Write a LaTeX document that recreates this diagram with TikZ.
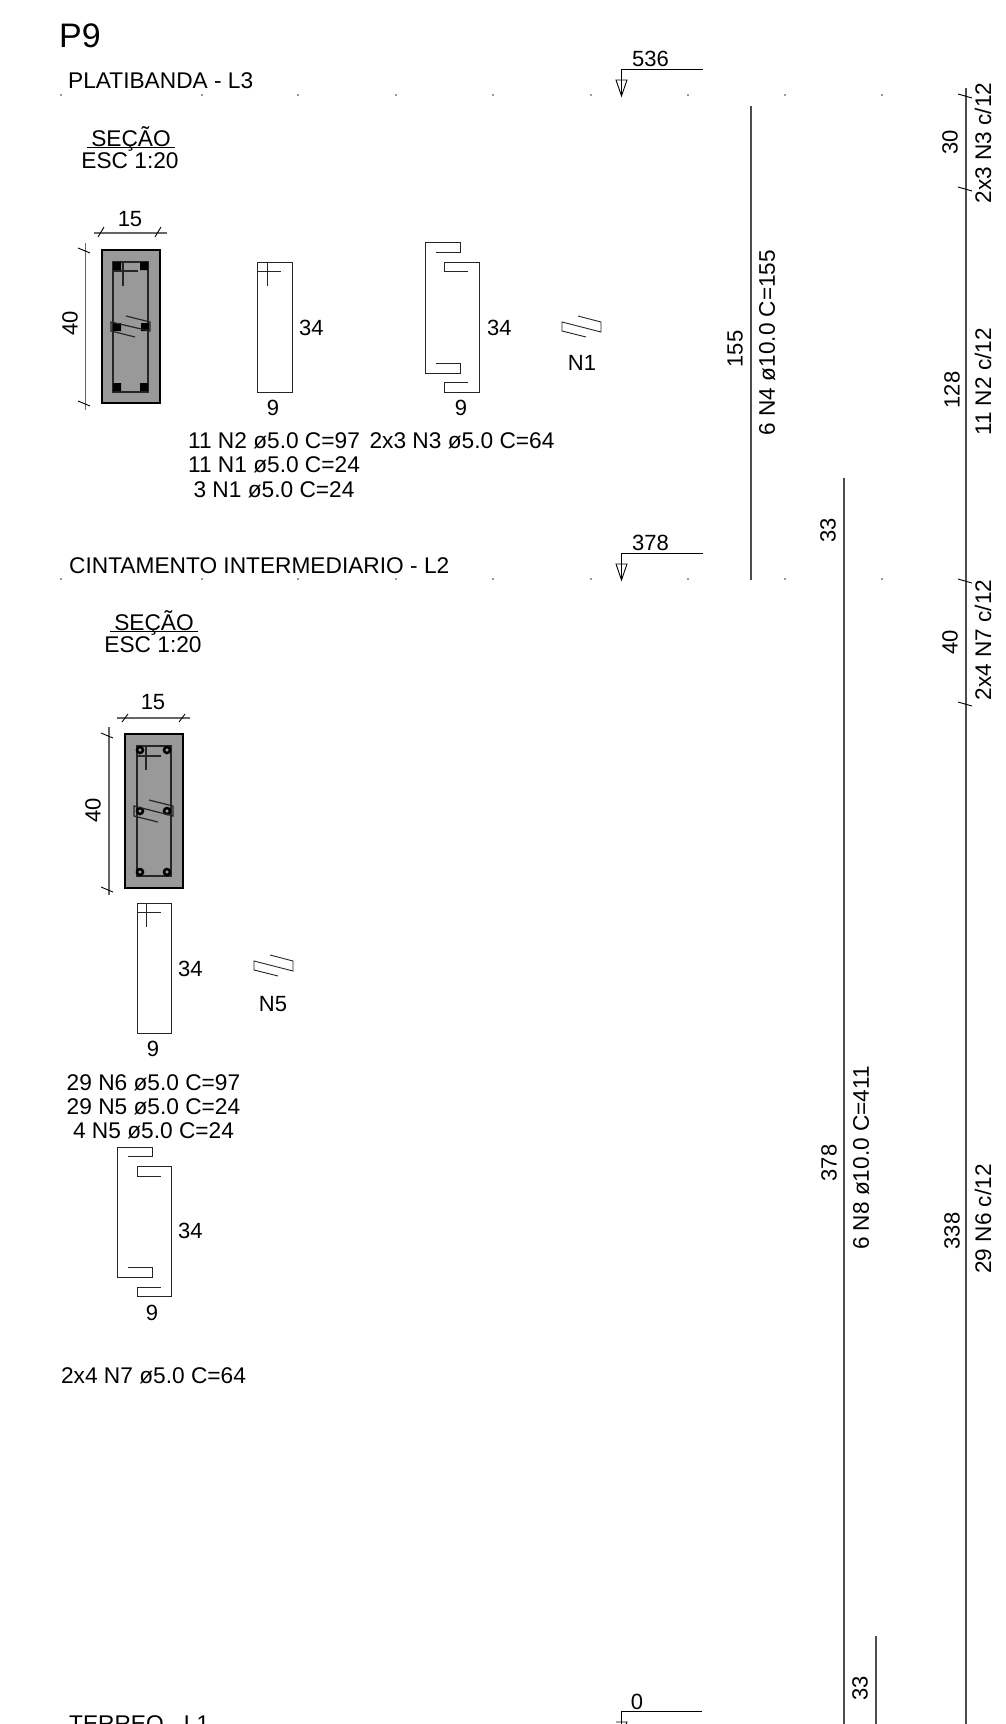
\documentclass[tikz,border=0pt]{standalone}
\usepackage{fontspec}
\setmainfont{Liberation Sans}

\tikzset{
	label_text/.style={anchor=base west, inner sep=0pt, font=\fontsize{22.7}{24}\selectfont},
	name_text/.style={anchor=base, inner sep=0pt, font=\fontsize{22.7}{24}\selectfont},
	mid_text/.style={anchor=base, inner sep=0pt, font=\fontsize{22}{24}\selectfont},
	num_text/.style={anchor=base west, inner sep=0pt, font=\fontsize{22}{24}\selectfont},
	side_text/.style={rotate=90, inner sep=0pt, text depth=0pt, font=\fontsize{22}{24}\selectfont},
	side_name/.style={rotate=90, inner sep=0pt, text depth=0pt, font=\fontsize{22.6}{24}\selectfont},
	bar_line/.style={draw=black!70, line width=1.6pt},
	dim_line/.style={draw=black!60, line width=1.2pt},
	shape_line/.style={draw=black!85, line width=0.9pt},
	inner_line/.style={draw=black!85, line width=1.2pt},
	concrete/.style={draw=black, fill=black!40, line width=2.5pt},
	tick_line/.style={draw=black, line width=0.9pt},
}

\begin{document}
\begin{tikzpicture}[x=1pt, y=-1pt]

\clip (0, 0) rectangle (1006, 1724);

% Title and floors
\node [anchor=base west, inner sep=0pt, font=\fontsize{34}{36}\selectfont] (title) at (59, 47) {P9};
\node [label_text] (floor_l3) at (68, 88) {PLATIBANDA - L3};
\node [label_text] (floor_l2) at (69, 573) {CINTAMENTO INTERMEDIARIO - L2};
\node [label_text] (floor_l1) at (69, 1731) {TERREO - L1};

% Grid dots
\fill [black!80] (61, 95) circle (0.9) (202, 95) circle (0.9) (298, 95) circle (0.9)
	(396, 95) circle (0.9) (493, 95) circle (0.9) (591, 95) circle (0.9)
	(688, 95) circle (0.9) (785, 95) circle (0.9) (882, 95) circle (0.9);
\fill [black!80] (61, 579) circle (0.9) (202, 579) circle (0.9) (298, 579) circle (0.9)
	(396, 579) circle (0.9) (493, 579) circle (0.9) (591, 579) circle (0.9)
	(688, 579) circle (0.9) (785, 579) circle (0.9) (882, 579) circle (0.9);

% Level 536
\node [num_text] (level_536) at (632, 66) {536};
\draw [tick_line] (703, 69) -- (621, 69) -- (621, 96);
\draw [tick_line] (616, 80) -- (627, 80) -- (621.5, 96) -- cycle;

% Level 378
\node [num_text] (level_378) at (632, 550) {378};
\draw [tick_line] (703, 553) -- (621, 553) -- (621, 580);
\draw [tick_line] (616, 564) -- (627, 564) -- (621.5, 580) -- cycle;

% Level 0
\node [mid_text] (level_0) at (637, 1709) {0};
\draw [tick_line] (702, 1711) -- (621, 1711) -- (621, 1724);
\draw [tick_line] (616, 1722) -- (627, 1722) -- (624, 1730);

% Section title L3
\node [name_text] (section_l3) at (131, 146) {SEÇÃO};
\draw [tick_line] (87, 147) -- (175, 147);
\node [name_text] (scale_l3) at (130, 168) {ESC 1:20};

% Section L3
\draw [concrete] (102, 250) rectangle (160, 403);
\draw [inner_line] (113, 262) rectangle (148, 392);
\fill (113, 262) rectangle (121, 270) (140, 262) rectangle (148, 270);
\fill (113, 323) rectangle (121, 331) (141, 323) rectangle (149, 331);
\fill (113, 383) rectangle (121, 391) (140, 383) rectangle (148, 391);
\draw [inner_line] (113, 271) -- (138, 271) (123, 262) -- (123, 286);
\draw [inner_line] (126, 316) -- (150, 322) -- (150, 331) -- (111, 322) -- (111, 331) -- (135, 337);

% Dimensions of section L3
\node [mid_text] (width_l3) at (130, 226) {15};
\draw [dim_line] (94, 233) -- (167, 233);
\draw [tick_line] (104, 227) -- (98, 237) (161, 227) -- (155, 237);
\node [side_text] (height_l3) at (70, 323) {40};
\draw [dim_line] (85.5, 243) -- (85.5, 410);
\draw [tick_line] (78, 248) -- (90, 253) (78, 401) -- (90, 406);

% N2 stirrup
\draw [shape_line] (257, 262) rectangle (292, 392);
\draw [shape_line] (257, 271) -- (281, 271) (267, 262) -- (267, 286);
\node [num_text] (n2_height) at (299, 335) {34};
\node [mid_text] (n2_width) at (273, 415) {9};

% N3 stirrup
\draw [shape_line] (468, 271) -- (444, 271) -- (444, 262) -- (479, 262) -- (479, 392) -- (444, 392) -- (444, 382) -- (468, 382);
\draw [shape_line] (436, 252) -- (460, 252) -- (460, 242) -- (425, 242) -- (425, 373) -- (460, 373) -- (460, 363) -- (436, 363);
\node [num_text] (n3_height) at (487, 335) {34};
\node [mid_text] (n3_width) at (461, 415) {9};

% N1 stirrup
\draw [shape_line] (578, 316) -- (601, 322) -- (601, 332) -- (562, 322) -- (562, 331) -- (586, 337);
\node [mid_text] (n1_name) at (582, 370) {N1};

% Steel list L3
\node [name_text] (list_n2) at (274, 448) {11 N2 ø5.0 C=97};
\node [name_text] (list_n3) at (462, 448) {2x3 N3 ø5.0 C=64};
\node [name_text] (list_n1) at (274, 472) {11 N1 ø5.0 C=24};
\node [name_text] (list_n1b) at (274, 497) {3 N1 ø5.0 C=24};

% Section title L2
\node [name_text] (section_l2) at (154, 630) {SEÇÃO};
\draw [tick_line] (110, 631) -- (198, 631);
\node [name_text] (scale_l2) at (153, 652) {ESC 1:20};

% Section L2
\draw [concrete] (125, 734) rectangle (183, 888);
\draw [inner_line] (137, 746) rectangle (171, 876);
\draw [fill=black!40, line width=2.5pt] (140, 750) circle (3) (167, 750) circle (3);
\draw [fill=black!40, line width=2.5pt] (140, 811) circle (3) (167, 811) circle (3);
\draw [fill=black!40, line width=2.5pt] (140, 872) circle (3) (167, 872) circle (3);
\draw [inner_line] (137, 756) -- (161, 756) (146, 746) -- (146, 770);
\draw [inner_line] (149, 800) -- (173, 806) -- (173, 816) -- (134, 806) -- (134, 816) -- (158, 822);

% Dimensions of section L2
\node [mid_text] (width_l2) at (153, 709) {15};
\draw [dim_line] (117, 718) -- (190, 718);
\draw [tick_line] (128, 714) -- (122, 722) (185, 714) -- (179, 722);
\node [side_text] (height_l2) at (93, 810) {40};
\draw [dim_line] (109, 727) -- (109, 895);
\draw [tick_line] (101, 733) -- (113, 738) (101, 887) -- (113, 892);

% N6 stirrup
\draw [shape_line] (137, 903) rectangle (171, 1033);
\draw [shape_line] (137, 912) -- (161, 912) (146, 903) -- (146, 927);
\node [num_text] (n6_height) at (178, 976) {34};
\node [mid_text] (n6_width) at (153, 1056) {9};

% N5 stirrup
\draw [shape_line] (270, 955) -- (293, 961) -- (293, 971) -- (254, 961) -- (254, 970) -- (278, 976);
\node [mid_text] (n5_name) at (273, 1011) {N5};

% Steel list L2
\node [name_text] (list_n6) at (153.5, 1090) {29 N6 ø5.0 C=97};
\node [name_text] (list_n5) at (153.5, 1114) {29 N5 ø5.0 C=24};
\node [name_text] (list_n5b) at (153.5, 1138) {4 N5 ø5.0 C=24};

% N7 stirrup
\draw [shape_line] (128, 1156) -- (152, 1156) -- (152, 1147) -- (117, 1147) -- (117, 1277) -- (152, 1277) -- (152, 1267) -- (128, 1267);
\draw [shape_line] (161, 1176) -- (137, 1176) -- (137, 1166) -- (171, 1166) -- (171, 1296) -- (137, 1296) -- (137, 1287) -- (161, 1287);
\node [num_text] (n7_height) at (178, 1238) {34};
\node [mid_text] (n7_width) at (152, 1320) {9};
\node [name_text] (list_n7) at (153.5, 1383) {2x4 N7 ø5.0 C=64};

% Bar N4
\draw [bar_line] (751, 106) -- (751, 580);
\node [side_text] (n4_length) at (735, 349) {155};
\node [side_name] (n4_name) at (767, 342.5) {6 N4 ø10.0 C=155};

% Bar N8
\draw [bar_line] (844, 478) -- (844, 1724);
\node [side_text] (n8_lap) at (828, 530) {33};
\node [side_text] (n8_length) at (829, 1163) {378};
\node [side_name] (n8_name) at (861, 1158) {6 N8 ø10.0 C=411};

% Bar below
\draw [bar_line] (876, 1636) -- (876, 1724);
\node [side_text] (lower_lap) at (860, 1688) {33};

% Stirrup line
\draw [bar_line] (966, 88) -- (966, 1724);
\draw [tick_line] (958, 94) -- (972, 98) (958, 187) -- (972, 191);
\draw [tick_line] (958, 579) -- (972, 583) (958, 702) -- (972, 706);
\node [side_text] (n3_span) at (950, 142) {30};
\node [side_name] (n3_name) at (983, 143) {2x3 N3 c/12};
\node [side_text] (n2_span) at (952, 390) {128};
\node [side_name] (n2_name) at (983, 382) {11 N2 c/12};
\node [side_text] (n7_span) at (950, 642) {40};
\node [side_name] (n7_name) at (983, 640) {2x4 N7 c/12};
\node [side_text] (n6_span) at (952, 1231) {338};
\node [side_name] (n6_name) at (983, 1219) {29 N6 c/12};

\end{tikzpicture}
\end{document}
